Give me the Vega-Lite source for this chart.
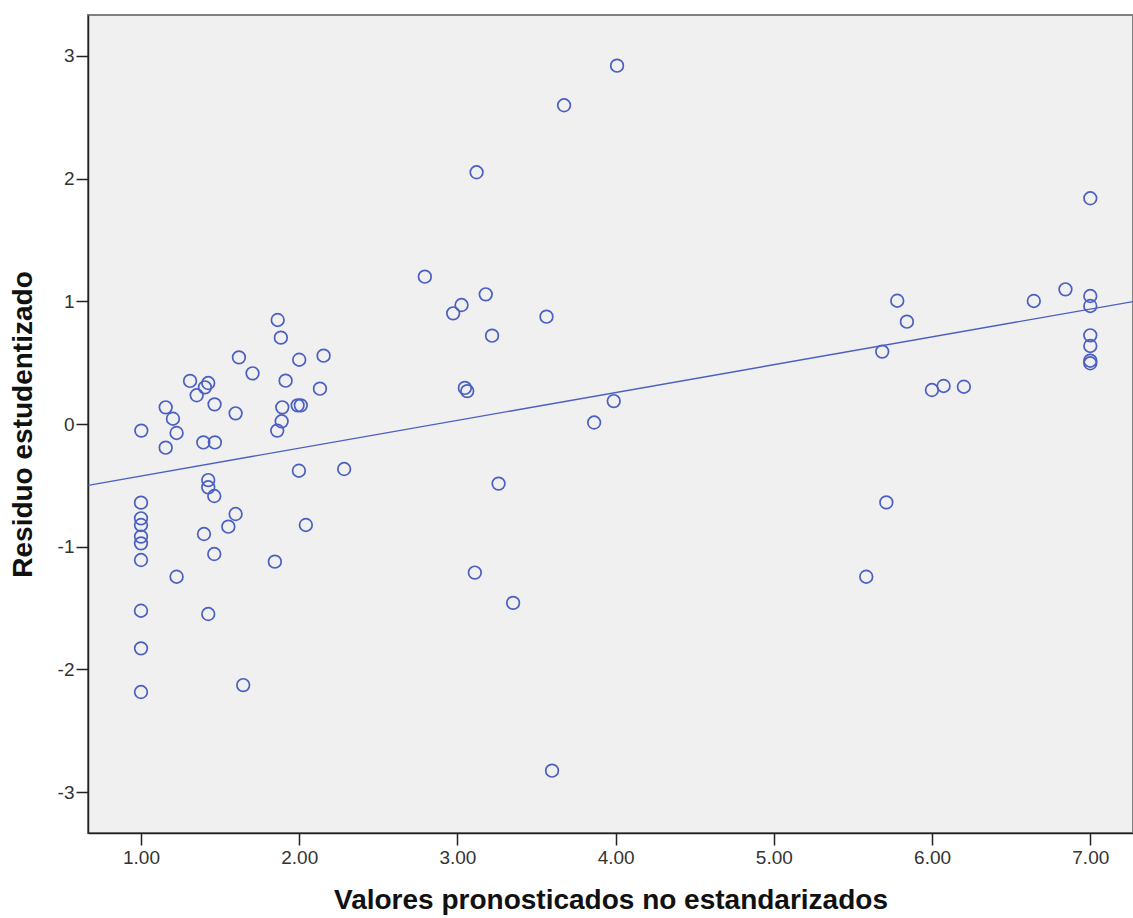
{
  "$schema": "https://vega.github.io/schema/vega-lite/v6.json",
  "width": 1045,
  "height": 818,
  "autosize": "none",
  "padding": {"left": 88, "top": 15, "right": 0, "bottom": 85},
  "background": "white",
  "datasets": {
    "points": [
      {"x": 1.864, "y": 0.848}, {"x": 1.884, "y": 0.704}, {"x": 1.619, "y": 0.543}, {"x": 1.705, "y": 0.413},
      {"x": 2.000, "y": 0.524}, {"x": 2.154, "y": 0.557}, {"x": 1.310, "y": 0.351}, {"x": 1.425, "y": 0.334},
      {"x": 1.404, "y": 0.299}, {"x": 1.352, "y": 0.234}, {"x": 1.465, "y": 0.160}, {"x": 1.914, "y": 0.353},
      {"x": 2.131, "y": 0.288}, {"x": 1.156, "y": 0.136}, {"x": 1.202, "y": 0.043}, {"x": 1.225, "y": -0.073},
      {"x": 1.002, "y": -0.054}, {"x": 1.156, "y": -0.193}, {"x": 1.598, "y": 0.087}, {"x": 1.893, "y": 0.136},
      {"x": 1.889, "y": 0.022}, {"x": 1.861, "y": -0.054}, {"x": 1.990, "y": 0.152}, {"x": 2.010, "y": 0.152},
      {"x": 1.394, "y": -0.150}, {"x": 1.467, "y": -0.150}, {"x": 1.998, "y": -0.381}, {"x": 2.284, "y": -0.367},
      {"x": 1.425, "y": -0.457}, {"x": 1.425, "y": -0.516}, {"x": 1.463, "y": -0.587}, {"x": 1.000, "y": -0.641},
      {"x": 1.000, "y": -0.769}, {"x": 1.000, "y": -0.823}, {"x": 1.000, "y": -0.918}, {"x": 1.000, "y": -0.973},
      {"x": 1.000, "y": -1.109}, {"x": 1.598, "y": -0.734}, {"x": 1.552, "y": -0.837}, {"x": 1.398, "y": -0.897},
      {"x": 2.042, "y": -0.823}, {"x": 1.463, "y": -1.060}, {"x": 1.846, "y": -1.122}, {"x": 1.225, "y": -1.245},
      {"x": 1.000, "y": -1.522}, {"x": 1.425, "y": -1.549}, {"x": 1.000, "y": -1.829}, {"x": 1.000, "y": -2.185},
      {"x": 1.646, "y": -2.128},
      {"x": 4.009, "y": 2.921}, {"x": 3.674, "y": 2.598}, {"x": 3.121, "y": 2.052}, {"x": 2.794, "y": 1.201},
      {"x": 3.179, "y": 1.057}, {"x": 3.026, "y": 0.970}, {"x": 2.973, "y": 0.902}, {"x": 3.563, "y": 0.875},
      {"x": 3.219, "y": 0.720}, {"x": 3.047, "y": 0.294}, {"x": 3.062, "y": 0.268}, {"x": 3.988, "y": 0.187},
      {"x": 3.864, "y": 0.012}, {"x": 3.260, "y": -0.486}, {"x": 3.110, "y": -1.211}, {"x": 3.352, "y": -1.458},
      {"x": 3.598, "y": -2.826},
      {"x": 7.000, "y": 1.840}, {"x": 6.843, "y": 1.098}, {"x": 6.643, "y": 1.003}, {"x": 7.000, "y": 1.043},
      {"x": 7.000, "y": 0.962}, {"x": 7.000, "y": 0.723}, {"x": 7.000, "y": 0.636}, {"x": 7.000, "y": 0.516},
      {"x": 7.000, "y": 0.495}, {"x": 5.780, "y": 1.005}, {"x": 5.841, "y": 0.834}, {"x": 5.685, "y": 0.590},
      {"x": 5.999, "y": 0.277}, {"x": 6.073, "y": 0.310}, {"x": 6.201, "y": 0.304}, {"x": 5.711, "y": -0.639},
      {"x": 5.584, "y": -1.245}
    ],
    "fit": [
      {"x": 0.665, "y": -0.500},
      {"x": 7.270, "y": 0.998}
    ]
  },
  "config": {
    "view": {"fill": "#F0F0F0", "stroke": "#808080", "strokeWidth": 2},
    "axis": {
      "grid": false,
      "domainColor": "#222222",
      "domainWidth": 1.5,
      "tickColor": "#222222",
      "tickWidth": 1.5,
      "tickSize": 12,
      "labelFont": "Liberation Sans",
      "labelFontSize": 19,
      "labelColor": "#333333",
      "titleFont": "Liberation Sans",
      "titleFontSize": 28,
      "titleFontWeight": "bold",
      "titleColor": "#111111"
    }
  },
  "layer": [
    {
      "data": {"name": "points"},
      "mark": {"type": "point", "shape": "circle", "filled": false, "size": 160, "strokeWidth": 1.7, "color": "#4A5FC1", "opacity": 1},
      "encoding": {
        "x": {
          "field": "x", "type": "quantitative",
          "scale": {"domain": [0.665, 7.27], "nice": false, "zero": false},
          "axis": {"title": "Valores pronosticados no estandarizados", "values": [1, 2, 3, 4, 5, 6, 7], "format": ".2f", "labelPadding": 3, "titlePadding": 19}
        },
        "y": {
          "field": "y", "type": "quantitative",
          "scale": {"domain": [-3.334, 3.334], "nice": false, "zero": false},
          "axis": {"title": "Residuo estudentizado", "values": [-3, -2, -1, 0, 1, 2, 3], "labelExpr": "'' + datum.value", "labelPadding": 2, "titlePadding": 20}
        }
      }
    },
    {
      "data": {"name": "fit"},
      "mark": {"type": "line", "color": "#4A5FC1", "strokeWidth": 1.4, "clip": true},
      "encoding": {
        "x": {"field": "x", "type": "quantitative"},
        "y": {"field": "y", "type": "quantitative"}
      }
    }
  ]
}
